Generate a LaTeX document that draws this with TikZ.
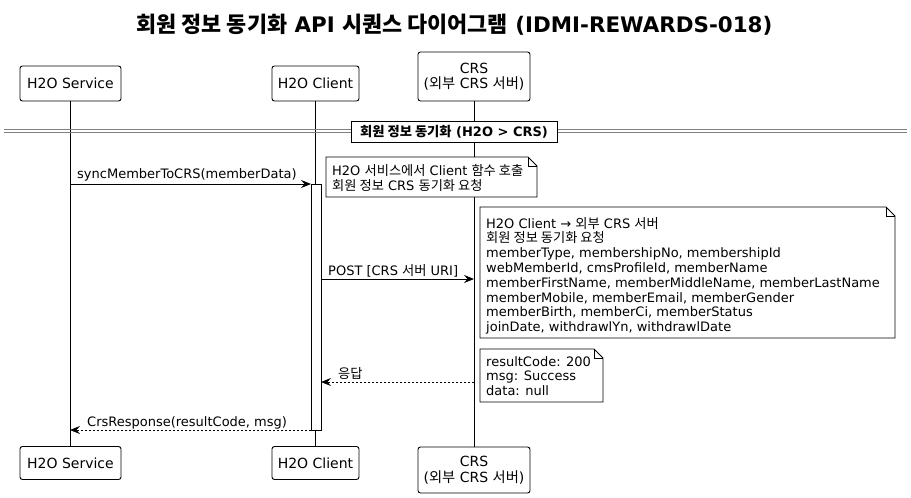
\documentclass[tikz,border=0pt]{standalone}
\usepackage{fontspec}
\setmainfont{DejaVu Sans}
\newfontfamily\kr[Scale=1.02]{Noto Sans CJK KR}
\newcommand\hk[1]{{\kr #1}}
\usetikzlibrary{arrows.meta,calc}
\tikzset{
  x=1pt,y=-1pt,
  msgfont/.style={font=\fontsize{13}{14.8}\selectfont},
  part/.style={draw,rounded corners=2.5pt,inner sep=0pt,align=center,
    font=\fontsize{14}{15.5}\selectfont,line width=0.9pt},
  life/.style={line width=0.9pt},
  msg/.style={line width=0.9pt,-{Stealth[length=10pt,width=8pt,inset=3.5pt]}},
  reply/.style={msg,dash pattern=on 2pt off 2pt},
  lbl/.style={inner sep=0pt,anchor=base west,msgfont},
  notetext/.style={inner sep=0pt,anchor=north west,align=left,msgfont},
  notebox/.style={line width=0.9pt,fill=white},
}
% #1 left, #2 top, #3 right, #4 bottom
\newcommand\notedraw[4]{%
  \draw[notebox] (#1,#2) -- (#3-9,#2) -- (#3,#2+9) -- (#3,#4) -- (#1,#4) -- cycle;
  \draw[line width=0.9pt] (#3-9,#2) -- (#3-9,#2+9) -- (#3,#2+9);}
\begin{document}
\begin{tikzpicture}
\useasboundingbox (0,0) rectangle (911,498);
\fill[white] (0,0) rectangle (911,498);

% title
\node[font=\fontsize{21.4}{25}\bfseries] (title) at (454.5,25)
  {\hk{\bfseries 회원 정보 동기화} API \hk{\bfseries 시퀀스 다이어그램} (IDMI-REWARDS-018)};

% participants top
\node[part,minimum width=101,minimum height=35] (svcT) at (70.5,83.5) {H2O Service};
\node[part,minimum width=87,minimum height=35] (cliT) at (315.5,83.5) {H2O Client};
\node[part,minimum width=112,minimum height=49] (crsT) at (474,76.5) {CRS\\(\hk{외부} CRS \hk{서버})};
% participants bottom
\node[part,minimum width=101,minimum height=33] (svcB) at (70.5,463) {H2O Service};
\node[part,minimum width=87,minimum height=33] (cliB) at (315.5,463) {H2O Client};
\node[part,minimum width=112,minimum height=46] (crsB) at (474,470) {CRS\\(\hk{외부} CRS \hk{서버})};

% lifelines
\draw[life] (svcT.south) -- (svcB.north);
\draw[life] (cliT.south) -- (cliB.north);
\draw[life] (crsT.south) -- (crsB.north);

% divider
\draw[line width=0.9pt,gray] (4,129.5) -- (907,129.5);
\draw[line width=0.9pt,gray] (4,132.5) -- (907,132.5);
\node[draw,fill=white,line width=0.9pt,inner sep=0pt,minimum width=206,minimum height=21,
  font=\fontsize{13}{15}\bfseries] (div) at (454,132)
  {\hk{\bfseries 회원 정보 동기화} (H2O > CRS)};

% activation
\node[draw,fill=white,line width=0.9pt,inner sep=0pt,minimum width=10,minimum height=246] (act) at (316,307) {};

% coordinates on lifelines
\coordinate (s1) at (70,184);
\coordinate (a1) at (311,184);
\coordinate (a2) at (321,279);
\coordinate (c2) at (474,279);
\coordinate (c3) at (474,382);
\coordinate (a3) at (321,382);
\coordinate (a4) at (311,430);
\coordinate (s4) at (70,430);

% messages
\draw[msg] (s1) -- (a1);
\node[lbl] (l1) at (77,178) {syncMemberToCRS(memberData)};
\draw[msg] (a2) -- (c2);
\node[lbl] (l2) at (328,275) {POST [CRS \hk{서버} URI]};
\draw[reply] (c3) -- (a3);
\node[lbl] (l3) at (338,378) {\hk{응답}};
\draw[reply] (a4) -- (s4);
\node[lbl] (l4) at (87,426) {CrsResponse(resultCode, msg)};

% notes
\notedraw{326}{157}{537}{197}
\node[notetext] (n1) at (332,164) {H2O \hk{서비스에서} Client \hk{함수 호출}\\\hk{회원 정보} CRS \hk{동기화 요청}};
\notedraw{480}{207}{895}{338}
\node[notetext] (n2) at (486,217) {H2O Client → \hk{외부} CRS \hk{서버}\\
\hk{회원 정보 동기화 요청}\\
memberType, membershipNo, membershipId\\
webMemberId, cmsProfileId, memberName\\
memberFirstName, memberMiddleName, memberLastName\\
memberMobile, memberEmail, memberGender\\
memberBirth, memberCi, memberStatus\\
joinDate, withdrawlYn, withdrawlDate};
\notedraw{480}{349}{603}{402}
\node[notetext] (n3) at (486,356) {resultCode: 200\\msg: Success\\data: null};
\end{tikzpicture}
\end{document}
